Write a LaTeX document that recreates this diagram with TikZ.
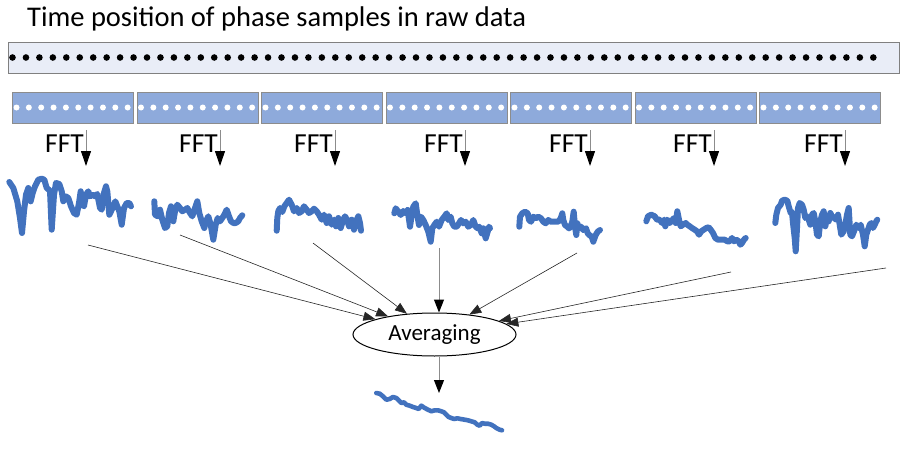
\documentclass[tikz,border=0pt]{standalone}
\usepackage{fontspec}
\setmainfont{Carlito}
\usetikzlibrary{positioning, shapes.geometric, arrows.meta}
\definecolor{barfill}{RGB}{233,237,247}
\definecolor{segfill}{RGB}{142,170,219}
\definecolor{specblue}{RGB}{66,114,190}

\begin{document}
\begin{tikzpicture}[x=1pt, y=-1pt,
    rawbar/.style={draw=black!50, fill=barfill, minimum width=891pt, minimum height=31pt, inner sep=0pt, anchor=north west},
    segbox/.style={draw=black!45, fill=segfill, minimum width=121pt, minimum height=31pt, inner sep=0pt, anchor=north west},
    spec/.style={draw=specblue, line width=6pt, line join=round, line cap=round},
    fftlbl/.style={font=\fontsize{27.5}{29}\selectfont, inner sep=0pt},
    down/.style={draw=black!45, line width=1pt, -{Triangle[length=15pt, width=10pt, color=black]}},
    feed/.style={draw=black!85, line width=0.6pt, -{Triangle[length=12pt, width=9pt]}},
    avgnode/.style={draw, ellipse, line width=1pt, minimum width=163pt, minimum height=43pt, inner sep=0pt, font=\fontsize{23}{24}\selectfont}]
  \useasboundingbox (0,0) rectangle (908,452);

  % raw data
  \node[anchor=base west, inner sep=0pt, font=\fontsize{28.5}{30}\selectfont] (title) at (27,27) {Time position of phase samples in raw data};
  \node[rawbar] (raw) at (8,42) {};
  \foreach \i in {0,...,64}
    \fill ({12.5+\i*13.45},57.5) circle (3.3pt);

  % segments
  \foreach \i in {1,...,7} {
    \node[segbox] (seg\i) at ({12+(\i-1)*124.5},92) {};
    \foreach \j in {0,...,9}
      \fill[white] ({16.5+(\i-1)*124.5+\j*12.35},107.5) circle (3pt);
  }

  % FFT
  \foreach \x [count=\k] in {86,220,335,465,590,714,845} {
    \coordinate (fftin\k) at (\x,130);
    \coordinate (fftout\k) at (\x,166);
    \draw[down] (fftin\k) -- (fftout\k);
    \node[fftlbl, anchor=base east] (fft\k) at (\x-2,152) {FFT};
  }

  % spectra
  \draw[spec] plot coordinates {(9.3,182) (13.3,188) (17.3,201.3) (20,218) (22,233) (24,211.3) (26,194.7) (28.3,188) (30.7,201.3) (32.7,193) (35,186.3) (38.3,179.7) (41.7,178.7) (44.3,179.7) (46.7,188) (50,190.7) (51.7,229.7) (54,194.7) (56,183) (59.3,184) (61.7,191.3) (63.3,201.3) (65.7,196.3) (68.3,198) (71,206.3) (74,213) (76.7,214.7) (79,203) (80.7,191.3) (82.3,204.7) (84,206.3) (86,194.7) (88.3,191.3) (90,196.3) (92.7,194.7) (95,196.3) (97.3,194) (100,208) (101.7,209.7) (104,193) (106,186.3) (107.3,191.3) (109.3,214.7) (111,211.3) (113.3,206.3) (115.3,201.3) (117.3,206.3) (119.3,211.3) (121.7,224.7) (124,208) (126.7,203) (129.3,203) (131,206.3)};
  \draw[spec] plot coordinates {(154.3,201.3) (155,214.7) (157.7,216.3) (160,209.7) (162.3,219.7) (165,228) (167.3,226.3) (169,213) (171,206.3) (173.3,221.3) (175,211.3) (177.3,204.7) (180,208) (182.3,211.3) (185,209.7) (187.3,208) (190,213) (192.3,216.3) (195,208) (197.3,201.3) (199.3,213) (201.7,221.3) (204.3,228) (206,221.3) (208.3,216.3) (210.7,224.7) (213.3,239.7) (215.7,224.7) (217.7,218) (220,221.3) (222.3,218) (224.3,214.7) (226.7,209.7) (229,216.3) (231,221.3) (233.3,223) (235.7,223) (238.3,221.3) (240,218) (242.3,215.3)};
  \draw[spec] plot coordinates {(276.7,230.7) (277.3,218) (278.3,211.3) (280,208) (282.3,212) (284.3,206.3) (286.7,203) (289,199.7) (291.7,204.7) (294,211.3) (296.7,208) (299,213) (301.7,211.3) (304,206.3) (306.7,209.7) (309,213) (311.7,211.3) (314,208.7) (316.7,211.3) (319,214.7) (321.7,219.7) (324,214.7) (326.7,223) (329,216.3) (331.7,224.7) (334,219.7) (336,226.3) (338.3,218) (340.7,228) (342.7,221.3) (345,216.3) (347,219.7) (349,226.3) (351.7,219.7) (354,229.7) (356,221.3) (358.3,216.3) (360,223) (361,230.7)};
  \draw[spec] plot coordinates {(394.3,213.3) (395.7,208.3) (398.3,211.7) (400.7,215) (403.3,211) (405.7,213.3) (407.7,210) (410,226.7) (411.7,215) (413.3,206.7) (415.7,203.3) (417.3,215) (419,225) (421,216.7) (423.3,220) (425.7,225) (428.3,231.7) (430.7,241.7) (432.3,228.3) (434.3,225) (436.7,221.7) (439,226.7) (441.7,220) (444.3,216.7) (446.7,213.3) (448.3,220) (450.7,216.7) (452.3,223.3) (454.3,226.7) (456.7,226.7) (459,223.3) (461,220) (463.3,223.3) (465.7,221.7) (468.3,226.7) (470.7,225) (473.3,220) (475.7,226.7) (477.7,228.3) (479.3,226.7) (481.7,233.3) (483.3,228.3) (485.7,238.3) (487.7,231.7) (489,226.7) (490,228.3)};
  \draw[spec] plot coordinates {(519.3,226.7) (520,216.7) (522.3,213.3) (525,211.7) (527.7,213.3) (529,220) (531,221.7) (533.3,216.7) (535.7,218.3) (538.3,216.7) (541,218.3) (543.3,221.7) (545.7,223.3) (548.3,220) (550.7,221.7) (553.3,221.7) (555.7,221.7) (558.3,221.7) (560.7,218.3) (562.3,213.3) (563.3,220) (565,225) (567.3,226.7) (569,228.3) (570.7,226.7) (572.3,221.7) (573.7,211.7) (575,226.7) (576.3,235) (577.3,223.3) (579,228.3) (581,226.7) (583.3,230) (586,228.3) (587.7,233.3) (589.3,235) (591.7,236.7) (593.3,241.7) (595.7,235) (597.7,231.7) (600,230)};
  \draw[spec] plot coordinates {(646.3,221.3) (648,216.3) (651.3,214.7) (654.7,216.3) (657,219.7) (659.7,219.7) (662,223) (664,219.7) (665.3,226.3) (667.3,219.7) (669.7,223) (671.3,221.3) (674,218) (675.7,223) (677.3,211.3) (679,219.7) (680.7,226.3) (683,224.7) (685.7,223) (687.3,224.7) (689.7,226.3) (692,228) (694.7,229.7) (697,231.3) (699,234.7) (701.3,231.3) (703.7,229.7) (706.3,228) (708.7,227.3) (710.7,229.7) (713,233) (715.3,238) (718,239.7) (721.3,239.7) (724.7,239.7) (727.3,241.3) (729.7,241.3) (732,238) (734,241.3) (736.3,239.7) (738.7,241.3) (740.3,244.7) (742,243) (744,239.7) (745.7,238)};
  \draw[spec] plot coordinates {(775.3,223) (776.3,214.7) (778,208) (780.7,204.7) (782,200.7) (784.7,199.7) (787.3,200.7) (788.7,206.3) (790.7,213) (792,212) (793,223) (794.7,238) (795.7,251.3) (797,228) (798,208) (799.7,203) (802,204.7) (803.7,209.7) (805.3,218) (807,216.3) (808.7,219.7) (810.3,224.7) (812,214.7) (813.7,213) (815.3,221.3) (817,234.7) (818.7,236.3) (820.3,221.3) (822,214.7) (823.7,211.3) (825.3,226.3) (827,218) (828.7,221.3) (830.3,213) (832,216.3) (834,218) (836.3,219.7) (838,214.7) (839.7,224.7) (841.3,234.7) (843.7,231.3) (845.3,224.7) (847,214.7) (848.7,208) (850.3,234.7) (852,236.3) (854,231.3) (856.3,224.7) (858.7,228) (860.7,224.7) (863,234.7) (864.7,246.3) (866.3,234.7) (868,229.7) (869.7,224.7) (871.3,223) (873,228) (874.7,224.7) (876.3,221.3) (877.3,219.7)};

  % averaging
  \coordinate (sp1) at (88,245);
  \coordinate (sp2) at (180,235);
  \coordinate (sp3) at (313,243);
  \coordinate (sp4) at (439,248);
  \coordinate (sp5) at (577,253);
  \coordinate (sp6) at (731,272);
  \coordinate (sp7) at (886,268);
  \node[avgnode] (avg) at (434.5,334.5) {Averaging};
  \foreach \k in {1,2,3,5,6,7}
    \draw[feed] (sp\k) -- (avg);
  \draw[down, -{Triangle[length=13pt, width=10pt, color=black]}] (sp4) -- (sp4 |- avg.north);
  \coordinate (res) at (439,393);
  \draw[down, -{Triangle[length=13pt, width=10pt, color=black]}] (sp4 |- avg.south) -- (res);
  \draw[spec, line width=4.6pt] plot coordinates {(376.3,393) (379.7,393.7) (383,396.3) (386.3,399.7) (389.7,399) (393,397) (396.3,398) (399.7,401.3) (401.3,403) (404,402.3) (406.3,404.7) (409.7,405.7) (413,407) (416.3,408) (418.7,409) (421.3,405.7) (424.7,408) (428,409.7) (431.3,411.3) (434.7,410.3) (438,410.3) (441.3,411.3) (444,412.3) (446.3,414.7) (448.7,417) (451.3,418) (454,419) (457.3,418.3) (460.7,419) (464.7,419.7) (468,420.3) (471.3,421.3) (474.7,422.3) (477.3,424.7) (479.7,425.7) (482,423) (484.7,423.7) (488,423.7) (491.3,424.7) (494,426.3) (496.3,428) (499.7,429.7) (502,430.3)};
\end{tikzpicture}
\end{document}
